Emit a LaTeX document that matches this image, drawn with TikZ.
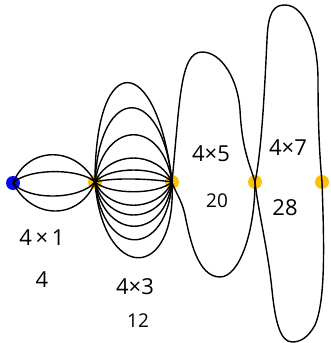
\documentclass[tikz,border=0pt]{standalone}
\usepackage{fontspec}
\setmainfont{Open Sans}
\definecolor{dotblue}{RGB}{10,10,240}
\definecolor{dotgold}{RGB}{250,195,10}
\begin{document}
\begin{tikzpicture}[x=1pt,y=-1pt,
  dotb/.style={circle,fill=dotblue,minimum size=14pt,inner sep=0pt},
  doty/.style={circle,fill=dotgold,minimum size=14pt,inner sep=0pt},
  ink/.style={line width=1.4pt,line cap=round,line join=round,black},
  big/.style={font=\fontsize{22}{22}\selectfont},
  small/.style={font=\fontsize{19}{19}\selectfont}]
\useasboundingbox (0,0) rectangle (330,343);
\node[dotb] (B) at (13,183) {};
\node[doty] (Y1) at (95,182) {};
\node[doty] (Y2) at (172,182) {};
\node[doty] (Y3) at (255,182) {};
\node[doty] (Y4) at (322,182) {};
% 4x1 lens
\draw[ink] (B.center) .. controls +(15,-37) and +(-20,-37) .. (Y1.center);
\draw[ink] (B.center) .. controls +(15,-15) and +(-15,-14) .. (Y1.center);
\draw[ink] (B.center) .. controls +(15,18) and +(-15,18) .. (Y1.center);
\draw[ink] (B.center) .. controls +(20,38) and +(-15,38) .. (Y1.center);
% 4x3 bundle
\draw[ink] (Y1.center) .. controls +(0,-135) and +(-15,-130) .. (Y2.center);
\draw[ink] (Y1.center) .. controls +(5,-99) and +(-10,-99) .. (Y2.center);
\draw[ink] (Y1.center) .. controls +(10,-63) and +(-10,-63) .. (Y2.center);
\draw[ink] (Y1.center) .. controls +(15,-32) and +(-15,-32) .. (Y2.center);
\draw[ink] (Y1.center) .. controls +(15,-16) and +(-15,-16) .. (Y2.center);
\draw[ink] (Y1.center) .. controls +(20,-5) and +(-20,-3) .. (Y2.center);
\draw[ink] (Y1.center) .. controls +(15,13) and +(-15,13) .. (Y2.center);
\draw[ink] (Y1.center) .. controls +(15,31) and +(-15,31) .. (Y2.center);
\draw[ink] (Y1.center) .. controls +(12,44) and +(-12,44) .. (Y2.center);
\draw[ink] (Y1.center) .. controls +(10,59) and +(-8,59) .. (Y2.center);
\draw[ink] (Y1.center) .. controls +(8,77) and +(-5,77) .. (Y2.center);
\draw[ink] (Y1.center) .. controls +(8,101) and +(5,101) .. (Y2.center);
% 4x5 loop
\draw[ink] (Y2.center) .. controls (180,100) and (180,52) .. (202,52)
  .. controls (222,52) and (238,80) .. (240,110)
  .. controls (242,150) and (250,165) .. (Y3.center);
\draw[ink] (Y3.center) .. controls (255,230) and (240,277) .. (220,277)
  .. controls (198,277) and (190,240) .. (185,215)
  .. controls (182,200) and (174,190) .. (Y2.center);
% 4x7 loop
\draw[ink] (Y3.center) .. controls (262,150) and (265,80) .. (267,40)
  .. controls (268,10) and (275,5) .. (285,5)
  .. controls (305,5) and (318,40) .. (318,80)
  .. controls (318,130) and (320,160) .. (Y4.center);
\draw[ink] (Y4.center) .. controls (324,240) and (326,300) .. (315,325)
  .. controls (308,338) and (300,342) .. (292,342)
  .. controls (280,342) and (275,320) .. (272,290)
  .. controls (268,250) and (258,210) .. (Y3.center);
% labels
\node[big] (t1) at (42,238) {4\,×\,1};
\node[big] (n1) at (42,280) {4};
\node[big] (t3) at (135,287) {4×3};
\node[small] (n3) at (138,321) {12};
\node[big] (t5) at (211,154) {4×5};
\node[small] (n5) at (217,201) {20};
\node[big] (t7) at (288,148) {4×7};
\node[big] (n7) at (285,208) {28};
\end{tikzpicture}
\end{document}
